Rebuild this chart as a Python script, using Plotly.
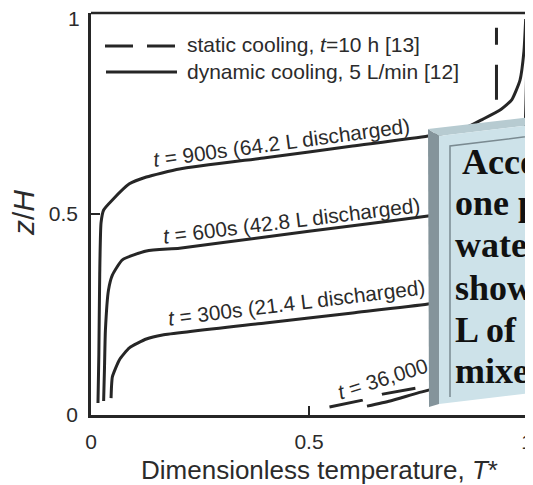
import plotly.graph_objects as go

# ---------------- data ----------------
t900_T = [0.016, 0.018, 0.020, 0.023, 0.029, 0.049, 0.088, 0.127, 0.203, 0.40, 0.60, 0.773, 0.85, 0.899, 0.940, 0.965, 0.984, 0.993, 0.997]
t900_z = [0.030, 0.150, 0.350, 0.478, 0.510, 0.535, 0.575, 0.592, 0.612, 0.640, 0.669, 0.694, 0.710, 0.736, 0.760, 0.784, 0.833, 0.905, 0.985]

t600_T = [0.029, 0.031, 0.033, 0.040, 0.049, 0.072, 0.127, 0.203, 0.40, 0.60, 0.773, 0.90, 0.96, 0.985, 0.995, 0.999, 1.000]
t600_z = [0.035, 0.120, 0.210, 0.310, 0.348, 0.386, 0.408, 0.415, 0.443, 0.471, 0.495, 0.515, 0.535, 0.580, 0.700, 0.850, 0.990]

t300_T = [0.046, 0.047, 0.049, 0.065, 0.088, 0.127, 0.164, 0.40, 0.60, 0.773, 0.90, 0.96, 0.985, 0.996, 1.000, 1.002]
t300_z = [0.042, 0.070, 0.095, 0.137, 0.167, 0.189, 0.199, 0.229, 0.254, 0.276, 0.300, 0.330, 0.400, 0.600, 0.800, 0.990]

dyn_long_T = [0.633, 0.686, 0.750, 0.823]
dyn_long_z = [0.022, 0.035, 0.055, 0.075]

static_low_T = [0.547, 0.623, 0.669, 0.747, 0.823]
static_low_z = [0.020, 0.037, 0.052, 0.067, 0.082]

static_top_T = [0.930, 0.930]
static_top_z = [0.784, 0.963]

x_ticks = [0, 0.5, 1]
x_tick_labels = ["0", "0.5", "1"]
y_ticks = [0, 0.5, 1]
y_tick_labels = ["0", "0.5", ""]      # the top "1" is drawn below as its own label
y_top_label = "1"

curve_labels = ["<i>t</i> = 900s (64.2 L discharged)",
                "<i>t</i> = 600s (42.8 L discharged)",
                "<i>t</i> = 300s (21.4 L discharged)",
                "<i>t</i> = 36,000"]
curve_label_T = [0.437, 0.460, 0.472, 0.669]
curve_label_z = [0.679, 0.485, 0.281, 0.092]
curve_label_angle = [-7.6, -7.0, -7.0, -17.5]

legend_labels = ["static cooling, <i>t</i>=10 h [13]",
                 "dynamic cooling, 5 L/min [12]"]

panel_lines = ["According", "one point", "water", "showed", "L of hot", "mixed"]

# ---------------- layout geometry ----------------
# page body has an 8px margin; the figure is sized so the plot lands where the reference has it
BODY = 8
REF_L, REF_R, REF_T, REF_B = 91, 533, 13, 415   # plot area in reference pixels
W = 533 - BODY
H = 485 - BODY
ML = REF_L - BODY
MT = REF_T - BODY
MR = 0
MB = 485 - REF_B
PW = REF_R - REF_L
PH = REF_B - REF_T

def px(x):
    return (x - REF_L) / PW

def py(y):
    return (REF_B - y) / PH

LINE = "#262626"
TXT = "#2b2b2b"
SANS = "Liberation Sans, Arial, sans-serif"
SERIF = "Liberation Serif, Times New Roman, serif"

fig = go.Figure()

def add_line(xs, ys, dash="solid", smooth=False):
    ln = dict(color=LINE, width=3, dash=dash)
    if smooth:
        ln.update(shape="spline", smoothing=0.5)
    fig.add_trace(go.Scatter(x=xs, y=ys, mode="lines", line=ln,
                             hoverinfo="skip", showlegend=False))

add_line(t900_T, t900_z, smooth=True)
add_line(t600_T, t600_z, smooth=True)
add_line(t300_T, t300_z, smooth=True)
add_line(dyn_long_T, dyn_long_z, smooth=True)
add_line(static_low_T, static_low_z, dash="34px,20px")
add_line(static_top_T, static_top_z, dash="35px,20px")

annotations = []
for txt, xv, yv, ang in zip(curve_labels, curve_label_T, curve_label_z, curve_label_angle):
    annotations.append(dict(x=xv, y=yv, xref="x", yref="y", text=txt, showarrow=False,
                            textangle=ang, xanchor="center", yanchor="middle",
                            font=dict(family=SANS, size=20.8, color=TXT)))

shapes = []
# top border of axes box
shapes.append(dict(type="line", xref="paper", yref="paper", x0=0, x1=1, y0=1, y1=1,
                   line=dict(color=LINE, width=2.5), layer="above"))
# legend samples
shapes.append(dict(type="line", xref="paper", yref="paper", x0=px(105), x1=px(175),
                   y0=py(46), y1=py(46), line=dict(color=LINE, width=3, dash="28px,14px")))
shapes.append(dict(type="line", xref="paper", yref="paper", x0=px(106), x1=px(177),
                   y0=py(72), y1=py(72), line=dict(color=LINE, width=3)))
for lab, yy in zip(legend_labels, [45, 71]):
    annotations.append(dict(x=px(185), y=py(yy), xref="paper", yref="paper", text=lab,
                            showarrow=False, xanchor="left", yanchor="middle",
                            font=dict(family=SANS, size=21, color=TXT)))

# top y tick label, nudged down so it stays inside the page
annotations.append(dict(x=px(82), y=py(18), xref="paper", yref="paper", text=y_top_label,
                        showarrow=False, xanchor="right", yanchor="middle",
                        font=dict(family=SANS, size=21, color=TXT)))

# overlaid panel (picture-like box)
def path(pts, close=True):
    s = "M " + " L ".join(f"{px(a):.5f},{py(b):.5f}" for a, b in pts)
    return s + (" Z" if close else "")

shapes.append(dict(type="path", xref="paper", yref="paper", layer="above",
                   path=path([(428, 129), (439, 136), (439, 404), (429, 407)]),
                   fillcolor="#84949b", line=dict(width=0)))
shapes.append(dict(type="path", xref="paper", yref="paper", layer="above",
                   path=path([(428, 129), (540, 116), (540, 124), (439, 136)]),
                   fillcolor="#b7cbd1", line=dict(width=0)))
shapes.append(dict(type="path", xref="paper", yref="paper", layer="above",
                   path=path([(439, 136), (540, 124), (540, 392), (439, 404)]),
                   fillcolor="#cde2e9", line=dict(width=0)))
shapes.append(dict(type="path", xref="paper", yref="paper", layer="above",
                   path=path([(450, 397), (450, 146), (540, 135)], close=False),
                   line=dict(color="#7a8a91", width=1.5)))

baselines = [173, 214, 256, 299, 341, 382]
for i, (ln, bl) in enumerate(zip(panel_lines, baselines)):
    x0 = 460 if i == 0 else 453
    annotations.append(dict(x=px(x0), y=py(bl - 11), xref="paper", yref="paper",
                            text=f"<b>{ln}</b>", showarrow=False, xanchor="left",
                            yanchor="middle",
                            font=dict(family=SERIF, size=36, color="#111111")))

# axis titles
annotations.append(dict(x=px(319), y=py(470), xref="paper", yref="paper",
                        text="Dimensionless temperature, <i>T</i>*", showarrow=False,
                        xanchor="center", yanchor="middle",
                        font=dict(family=SANS, size=26, color=TXT)))
annotations.append(dict(x=px(24), y=py(213), xref="paper", yref="paper",
                        text="<i>z</i>/<i>H</i>", showarrow=False, textangle=-90,
                        xanchor="center", yanchor="middle",
                        font=dict(family=SANS, size=30, color=TXT)))

axis_common = dict(showgrid=False, zeroline=False, showline=True, linecolor=LINE, linewidth=2.5,
                   ticks="inside", ticklen=9, tickwidth=2, tickcolor=LINE, mirror=False,
                   tickfont=dict(family=SANS, size=21, color=TXT), automargin=False,
                   ticklabelstandoff=6, ticklabeloverflow="allow", fixedrange=True)

fig.update_layout(
    width=W, height=H,
    margin=dict(l=ML, r=MR, t=MT, b=MB, pad=0),
    paper_bgcolor="white", plot_bgcolor="white",
    showlegend=False,
    shapes=shapes, annotations=annotations,
    xaxis=dict(range=[0, PW / 436.0], tickvals=x_ticks, ticktext=x_tick_labels, **axis_common),
    yaxis=dict(range=[0, 1], tickvals=y_ticks, ticktext=y_tick_labels, **axis_common),
)

fig.write_html("out.html", config=dict(displayModeBar=False))
